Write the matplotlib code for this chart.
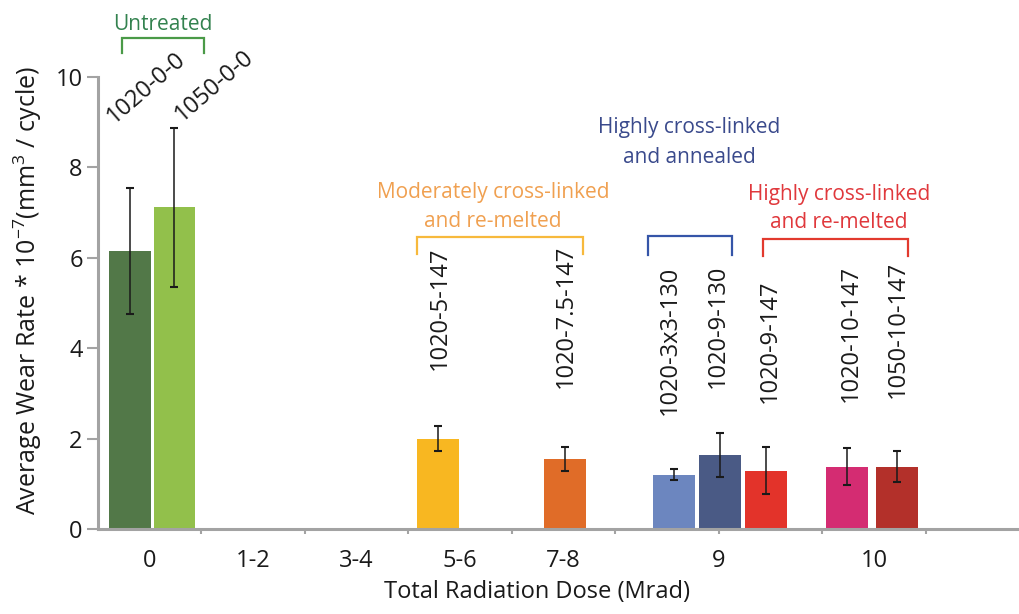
import matplotlib
matplotlib.use("Agg")
import matplotlib.pyplot as plt

plt.rcParams['font.family'] = ['Open Sans', 'DejaVu Sans']
plt.rcParams['mathtext.fontset'] = 'custom'
plt.rcParams['mathtext.rm'] = 'Open Sans'
plt.rcParams['mathtext.it'] = 'Open Sans:italic'
plt.rcParams['mathtext.bf'] = 'Open Sans:bold'

# ---- data -------------------------------------------------------------
samples = ["1020-0-0", "1050-0-0", "1020-5-147", "1020-7.5-147",
           "1020-3x3-130", "1020-9-130", "1020-9-147", "1020-10-147",
           "1050-10-147"]
wear_rate = [6.15, 7.12, 2.00, 1.55, 1.20, 1.64, 1.29, 1.38, 1.38]
wear_err = [1.40, 1.76, 0.27, 0.26, 0.12, 0.49, 0.52, 0.41, 0.34]
dose_labels = ["0", "1-2", "3-4", "5-6", "7-8", "9", "10"]
group_names = [["Untreated"],
               ["Moderately cross-linked", "and re-melted"],
               ["Highly cross-linked", "and annealed"],
               ["Highly cross-linked", "and re-melted"]]

# ---- layout / style ---------------------------------------------------
bar_x = [0.309, 0.739, 3.285, 4.512, 5.570, 6.010, 6.454, 7.237, 7.720]
bar_w = 0.405
bar_colors = ["#527848", "#92c04b", "#f8b721", "#e06c28", "#6c86bf",
              "#4a5a85", "#e3332a", "#d42c72", "#b3302a"]
dose_label_x = [0.5, 1.5, 2.5, 3.5, 4.5, 6.0, 7.5]
# vertical sample labels: baseline x and starting height
vlabel_x = [None, None, 3.362, 4.580, 5.585, 6.048, 6.551, 7.333, 7.787]
vlabel_y = [None, None, 3.52, 3.12, 2.52, 3.12, 2.79, 2.81, 2.90]
# slanted labels for the untreated pair (centre points)
slant_pos = [(0.447, 9.82), (1.101, 9.845)]

group_text_colors = ["#33824f", "#f0a050", "#3a4a8c", "#e0383c"]
group_bracket_colors = ["#4a9a48", "#f7b93c", "#3555a8", "#e23a2e"]
group_text_x = [0.628, 3.816, 5.71, 7.16]
group_text_y = [[11.04], [7.32, 6.68], [8.76, 8.10], [7.27, 6.66]]
brackets = [(0.232, 1.024, 10.86, 10.53),
            (3.082, 4.686, 6.46, 6.08),
            (5.314, 6.126, 6.48, 6.06),
            (6.425, 7.826, 6.42, 6.04)]

axis_grey = "#a3a3a3"
ink = "#1a1a1a"

fig = plt.figure(figsize=(10.2, 6.14), dpi=100, facecolor="white")
ax = fig.add_axes([98 / 1020, 1 - 529 / 614, 920 / 1020, 452 / 614])

ax.bar(bar_x, wear_rate, width=bar_w, color=bar_colors, edgecolor="none",
       zorder=2)
ax.errorbar(bar_x, wear_rate, yerr=wear_err, fmt="none", ecolor=ink,
            elinewidth=1.1, capsize=3, capthick=1.5, zorder=3)

ax.set_xlim(0, 8.89)
ax.set_ylim(0, 10)

for side in ("top", "right"):
    ax.spines[side].set_visible(False)
for side in ("left", "bottom"):
    ax.spines[side].set_color(axis_grey)
    ax.spines[side].set_linewidth(2.2)

ax.set_yticks([0, 2, 4, 6, 8, 10])
ax.tick_params(axis="y", direction="out", length=8, width=1.5,
               color=axis_grey, labelsize=17, labelcolor=ink, pad=3)
ax.set_xticks([1, 2, 3, 4, 5, 6, 7, 8])
ax.set_xticklabels([])
ax.tick_params(axis="x", direction="out", length=3.5, width=1.5,
               color=axis_grey)

# dose category labels under the axis
xtrans = ax.get_xaxis_transform()
for x, lab in zip(dose_label_x, dose_labels):
    ax.text(x, -0.0841, lab, transform=xtrans, ha="center", va="baseline",
            fontsize=17, color=ink)

# sample labels
for i, s in enumerate(samples):
    if vlabel_x[i] is None:
        continue
    ax.text(vlabel_x[i], vlabel_y[i], s, rotation=90, rotation_mode="anchor",
            ha="left", va="baseline", fontsize=17, color=ink, clip_on=False)
for (x, y), s in zip(slant_pos, samples[:2]):
    ax.text(x, y, s, rotation=41, rotation_mode="anchor", ha="center",
            va="center_baseline", fontsize=17, color=ink, clip_on=False)

# treatment groups: brackets and captions
for (x0, x1, yt, yb), col in zip(brackets, group_bracket_colors):
    ax.plot([x0, x0, x1, x1], [yb, yt, yt, yb], color=col, lw=1.6,
            clip_on=False, solid_joinstyle="miter", zorder=4)
for lines, ys, x, col in zip(group_names, group_text_y, group_text_x,
                             group_text_colors):
    for line, y in zip(lines, ys):
        ax.text(x, y, line, ha="center", va="baseline", fontsize=15,
                color=col, clip_on=False)

fig.text(0.0353, 1 - 291 / 614,
         r"Average Wear Rate * 10$^{-7}$(mm$^{3}$ / cycle)",
         rotation=90, rotation_mode="anchor", ha="center", va="baseline",
         fontsize=18, color=ink)
fig.text(536.5 / 1020, 1 - 598 / 614, "Total Radiation Dose (Mrad)",
         ha="center", va="baseline", fontsize=17, color=ink)

fig.savefig("out.png", dpi=100, facecolor="white")
